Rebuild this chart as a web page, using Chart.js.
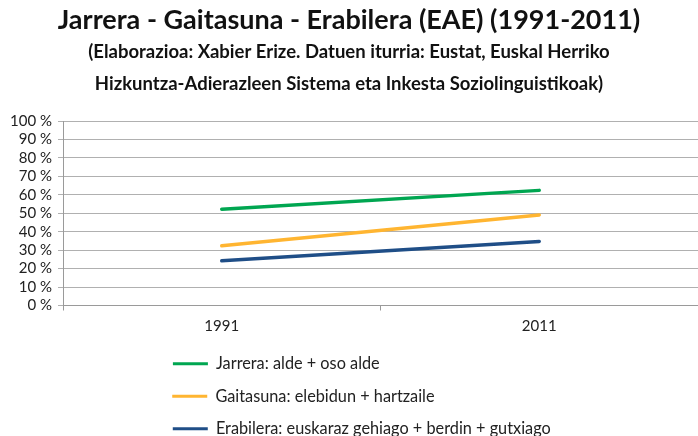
<!DOCTYPE html>
<html>
<head>
<meta charset="utf-8">
<script src="https://cdn.jsdelivr.net/npm/chart.js@4.4.1/dist/chart.umd.min.js"></script>
<style>
  html, body { margin: 0; padding: 0; background: #fff; overflow: hidden; }
  #wrap { position: relative; width: 698px; height: 447px; }
</style>
</head>
<body>
<div id="wrap"><canvas id="c"></canvas></div>
<script>
const categories = ['1991', '2011'];
const seriesNames = [
  'Jarrera: alde + oso alde',
  'Gaitasuna: elebidun + hartzaile',
  'Erabilera: euskaraz gehiago + berdin + gutxiago'
];
const jarrera = [52.2, 62.4];
const gaitasuna = [32.4, 49.1];
const erabilera = [24.2, 34.7];
const yTicks = ['0 %', '10 %', '20 %', '30 %', '40 %', '50 %', '60 %', '70 %', '80 %', '90 %', '100 %'];

const titleText = 'Jarrera - Gaitasuna - Erabilera (EAE) (1991-2011)';
const subtitleLines = [
  '(Elaborazioa: Xabier Erize. Datuen iturria: Eustat, Euskal Herriko',
  'Hizkuntza-Adierazleen Sistema eta Inkesta Soziolinguistikoak)'
];

const FONT = 'Lato, "Open Sans", "Liberation Sans", sans-serif';
const colors = ['#00A651', '#FFB531', '#1F4E87'];
const legendFont = { family: FONT, size: 16.3 };
const LEGEND_BOX = 35;
const LEGEND_ITEM_W = 415;

function makeDs(label, data, color) {
  return {
    label, data,
    borderColor: color, backgroundColor: color,
    borderWidth: 3.5, pointRadius: 0, pointHoverRadius: 0,
    fill: false, tension: 0, borderCapStyle: 'round'
  };
}

new Chart(document.getElementById('c'), {
  type: 'line',
  data: {
    labels: categories,
    datasets: [
      makeDs(seriesNames[0], jarrera, colors[0]),
      makeDs(seriesNames[1], gaitasuna, colors[1]),
      makeDs(seriesNames[2], erabilera, colors[2])
    ]
  },
  options: {
    responsive: true,
    maintainAspectRatio: false,
    animation: false,
    layout: { padding: { left: 0, right: 0, top: 0, bottom: 0 } },
    scales: {
      x: {
        offset: true,
        grid: { display: true, offset: true, drawOnChartArea: false, drawTicks: true, tickLength: 5, color: '#9a9a9a' },
        border: { display: true, color: '#9a9a9a', width: 1 },
        ticks: { color: '#222', font: { family: FONT, size: 15 }, padding: 7 },
        afterFit: (s) => { s.height -= 3; }
      },
      y: {
        min: 0, max: 100,
        grid: { color: '#b0b0b0', tickLength: 5, drawTicks: true },
        border: { display: true, color: '#9a9a9a', width: 1 },
        ticks: {
          stepSize: 10, padding: 6, color: '#222', autoSkip: false,
          font: { family: FONT, size: 15 },
          callback: (v) => yTicks[Math.round(v / 10)]
        },
        afterFit: (s) => { s.width = 63; }
      }
    },
    plugins: {
      tooltip: { enabled: false },
      title: {
        display: true, text: titleText, color: '#111',
        font: { family: FONT, size: 27, weight: 'bold', lineHeight: 1.2 },
        padding: { top: 3.8, bottom: 0 }
      },
      subtitle: {
        display: true, text: subtitleLines, color: '#111',
        font: { family: FONT, size: 18.5, weight: 'bold', lineHeight: 32 / 18.5 },
        padding: { top: 0, bottom: 20.8 }
      },
      legend: {
        display: true, position: 'bottom', align: 'center', fullSize: false,
        labels: {
          boxWidth: LEGEND_BOX, boxHeight: 3, padding: 16.2,
          color: '#222', font: legendFont,
          generateLabels(chart) {
            const items = Chart.defaults.plugins.legend.labels.generateLabels(chart);
            const ctx = chart.ctx;
            ctx.save();
            ctx.font = 'normal ' + legendFont.size + 'px ' + FONT;
            const target = LEGEND_ITEM_W - LEGEND_BOX - legendFont.size / 2;
            items.forEach((it, i) => {
              it.fillStyle = colors[i];
              it.strokeStyle = colors[i];
              it.lineWidth = 0;
              let t = it.text;
              let guard = 0;
              while (ctx.measureText(t).width < target && guard < 400) { t += ' '; guard++; }
              it.text = t;
            });
            ctx.restore();
            return items;
          }
        }
      }
    }
  }
});
</script>
</body>
</html>
